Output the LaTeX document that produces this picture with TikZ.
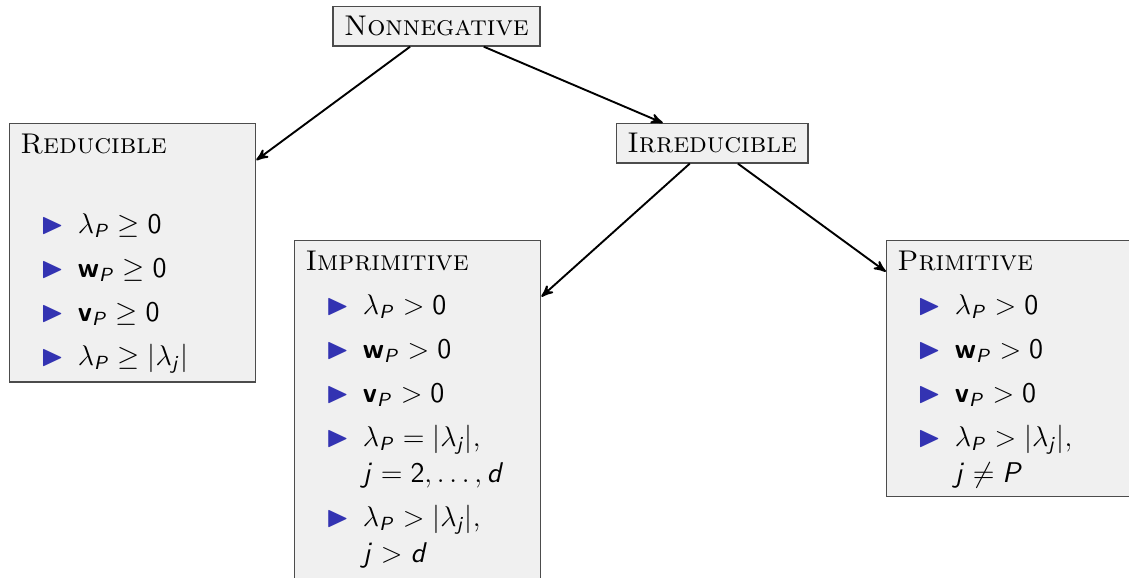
\documentclass[tikz,border=0pt]{standalone}
\usepackage{amsmath,amssymb}
\usepackage{tikz}
\usetikzlibrary{calc}
\usetikzlibrary{arrows}

\definecolor{beamerblue}{rgb}{0.2,0.2,0.7}
\definecolor{boxgray}{gray}{0.94}

% sans serif letters and digits in math, beamer like
\DeclareSymbolFont{sfslanted}{OT1}{cmss}{m}{sl}
\DeclareSymbolFont{sfupright}{OT1}{cmss}{m}{n}
\DeclareMathSymbol{P}{\mathalpha}{sfslanted}{`P}
\DeclareMathSymbol{j}{\mathalpha}{sfslanted}{`j}
\DeclareMathSymbol{d}{\mathalpha}{sfslanted}{`d}
\DeclareMathSymbol{0}{\mathord}{sfupright}{`0}
\DeclareMathSymbol{2}{\mathord}{sfupright}{`2}
\DeclareMathAlphabet{\mathsfbf}{OT1}{cmss}{bx}{n}

\newcommand{\bul}{\textcolor{beamerblue}{\scalebox{1.05}{$\blacktriangleright$}}}
\newcommand{\ttl}[1]{\noindent\rule{0pt}{8.9pt}\textsc{#1}}
\newcommand{\itm}[1]{\par\vspace{3.3pt}\noindent\hspace*{0.30cm}\makebox[0.55cm][l]{\bul}#1}
\newcommand{\cnt}[1]{\par\noindent\hspace*{0.85cm}#1}

\begin{document}
\begin{tikzpicture}[
    box/.style={draw=black!70, fill=boxgray, line width=0.6pt, inner xsep=4.6pt, inner ysep=3.7pt},
    topbox/.style={box, minimum height=0.58cm},
    listbox/.style={box, anchor=north west, text width=3.32cm},
    >=stealth', font=\fontsize{12}{15.2}\selectfont]

    \useasboundingbox (0,0) rectangle (16.71,-8.54);
    \clip (0,0) rectangle (16.71,-8.54);

    \node (nonneg) at (6.46,-0.39) [topbox] {\textsc{Nonnegative}};
    \node (irred) at (10.54,-2.12) [topbox] {\textsc{Irreducible}};

    \node (reducible) at (0.13,-1.82) [listbox] {\ttl{Reducible}\par\vspace{\baselineskip}
        \itm{$\lambda_P \geq 0$}
        \itm{$\mathsfbf{w}_P \geq 0$}
        \itm{$\mathsfbf{v}_P \geq 0$}
        \itm{$\lambda_P \geq |\lambda_j|$}};

    \node (imprim) at (4.35,-3.55) [listbox] {\ttl{Imprimitive}
        \itm{$\lambda_P > 0$}
        \itm{$\mathsfbf{w}_P > 0$}
        \itm{$\mathsfbf{v}_P > 0$}
        \itm{$\lambda_P = |\lambda_j|$,}
        \cnt{$j = 2, \dots, d$}
        \itm{$\lambda_P > |\lambda_j|$,}
        \cnt{$j > d$\rule[-10pt]{0pt}{10pt}}};

    \node (prim) at (13.11,-3.55) [listbox] {\ttl{Primitive}
        \itm{$\lambda_P > 0$}
        \itm{$\mathsfbf{w}_P > 0$}
        \itm{$\mathsfbf{v}_P > 0$}
        \itm{$\lambda_P > |\lambda_j|$,}
        \cnt{$j \neq P$}};

    \draw [->, thick] ([xshift=-0.39cm]nonneg.south) -- ([yshift=-0.55cm]reducible.north east);
    \draw [->, thick] ([xshift=0.70cm]nonneg.south) -- ([xshift=-0.73cm]irred.north);
    \draw [->, thick] ([xshift=-0.33cm]irred.south) -- ([yshift=-0.84cm]imprim.north east);
    \draw [->, thick] ([xshift=0.38cm]irred.south) -- ([yshift=-0.47cm]prim.north west);

\end{tikzpicture}
\end{document}
